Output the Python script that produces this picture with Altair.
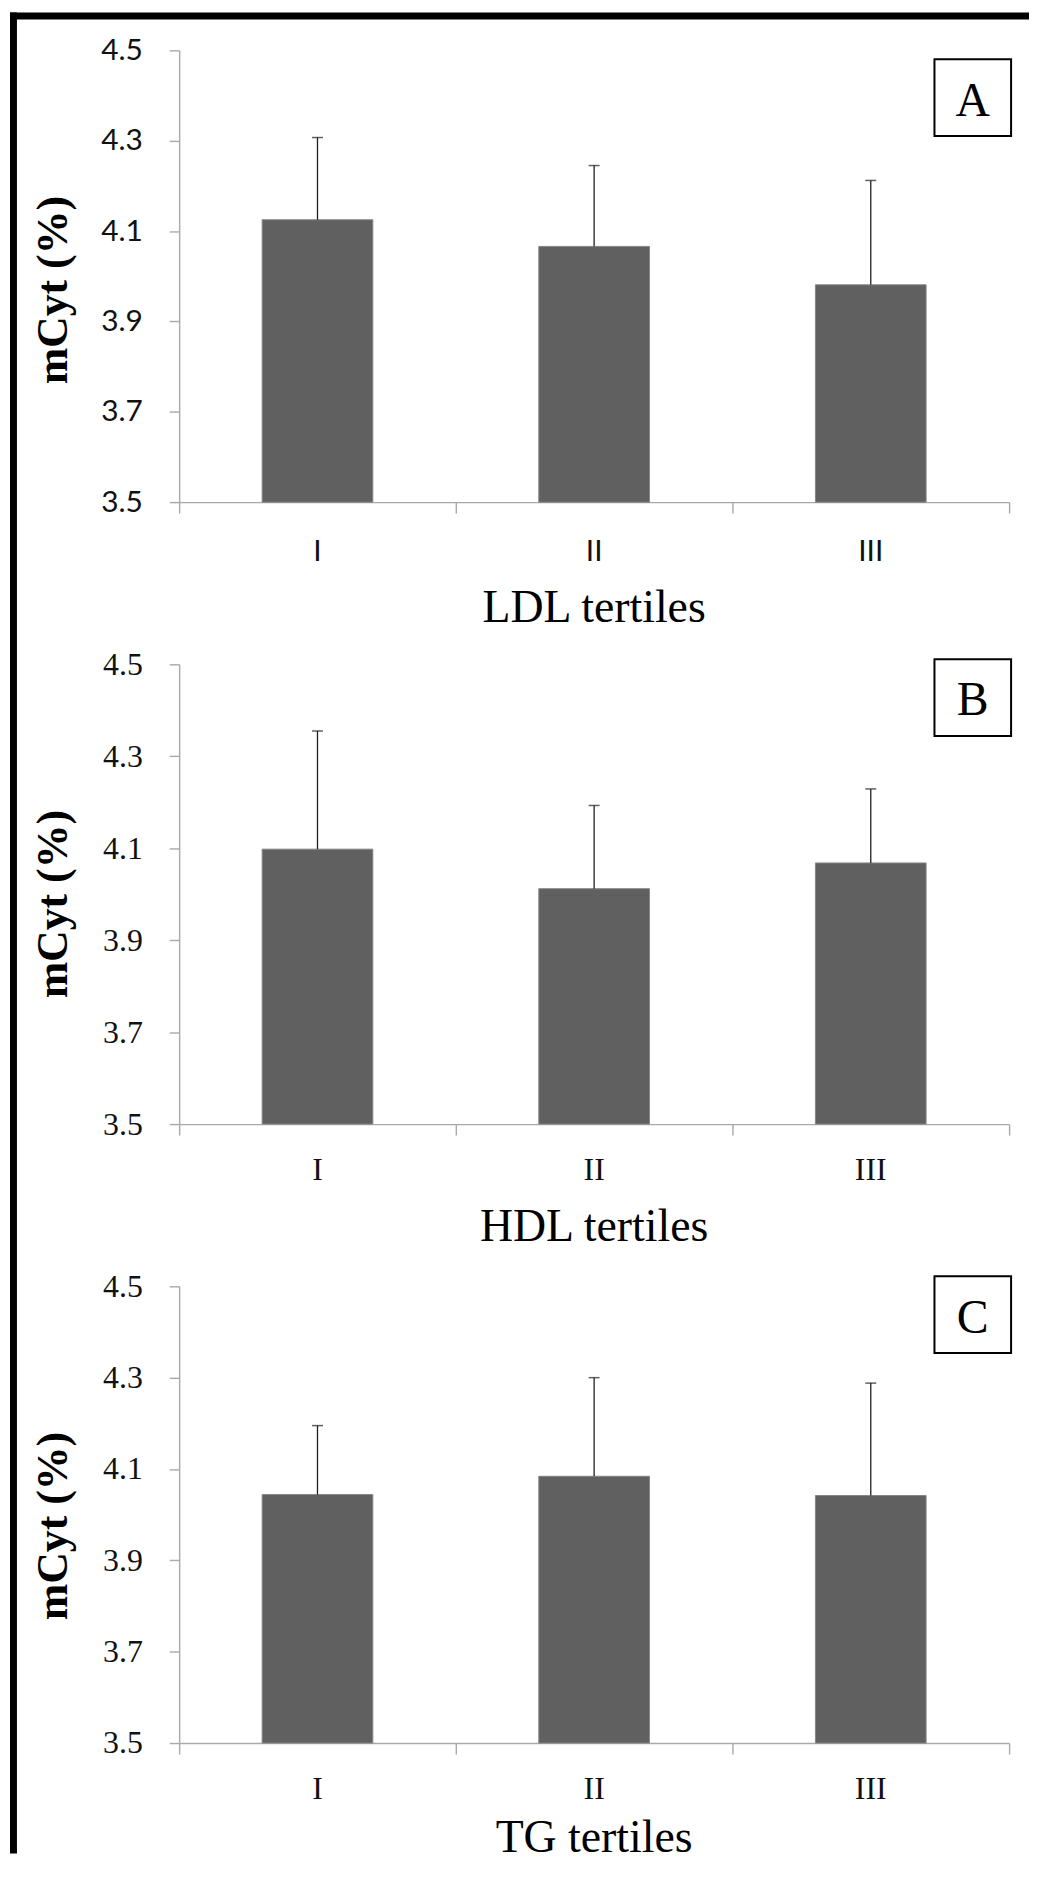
import altair as alt
import pandas as pd

# ---- data ----
tertiles = ["I", "II", "III"]
ldl_mean = [4.125, 4.066, 3.981]
ldl_err = [0.182, 0.179, 0.231]
hdl_mean = [4.098, 4.012, 4.068]
hdl_err = [0.257, 0.181, 0.161]
tg_mean = [4.044, 4.084, 4.042]
tg_err = [0.151, 0.216, 0.246]
y_ticks = [3.5, 3.7, 3.9, 4.1, 4.3, 4.5]
y_min, y_max = 3.5, 4.5
panel_letters = ["A", "B", "C"]
x_titles = ["LDL tertiles", "HDL tertiles", "TG tertiles"]
y_title = "mCyt (%)"

W = 834
AXIS_GRAY = "#a9a9a9"
SERIF = "Liberation Serif, Times New Roman, serif"


def panel(means, errs, letter, xtitle, height, tick_font, tick_fs, x_lab_pad,
          x_title_y, box_y, letter_y, frame=False):
    df = pd.DataFrame({"tertile": tertiles, "mean": means, "err": errs})
    base = alt.Chart(df).transform_calculate(upper="datum.mean + datum.err")

    x = alt.X(
        "tertile:N", sort=tertiles,
        scale=alt.Scale(paddingInner=0, paddingOuter=0),
        axis=alt.Axis(
            title=None, bandPosition=1, tickExtra=True,
            tickSize=11, labelAngle=0, labelFont=tick_font, labelFontSize=tick_fs,
            labelColor="#111", labelBaseline="alphabetic", labelPadding=x_lab_pad,
        ),
    )
    yscale = alt.Scale(domain=[y_min, y_max], nice=False, zero=False)
    yaxis = alt.Axis(
        values=y_ticks, format=".1f", title=None, tickSize=10,
        labelFont=tick_font, labelFontSize=tick_fs, labelColor="#111",
        labelPadding=27, labelBaseline="middle",
    )

    bars = base.mark_bar(
        width=alt.RelativeBandSize(0.4), color="#606060", stroke="#858585",
        strokeWidth=1,
    ).encode(x=x, y=alt.Y("mean:Q", scale=yscale, axis=yaxis),
             y2=alt.datum(y_min))

    err_line = base.mark_rule(color="#1e1e1e", strokeWidth=1.3).encode(
        x=x, y=alt.Y("mean:Q", scale=yscale, axis=yaxis), y2="upper:Q"
    )
    err_cap = base.mark_tick(color="#1e1e1e", size=11, thickness=1.5).encode(
        x=x, y=alt.Y("upper:Q", scale=yscale, axis=yaxis)
    )

    ann = alt.Chart(alt.Data(values=[{"letter": letter, "xt": xtitle,
                                      "yt": y_title}]))
    box = ann.mark_rect(fill="white", stroke="black", strokeWidth=2).encode(
        x=alt.value(759), x2=alt.value(836),
        y=alt.value(box_y), y2=alt.value(box_y + 77),
    )
    txt = ann.mark_text(font=SERIF, fontSize=48, color="black", align="center",
                        baseline="alphabetic").encode(
        x=alt.value(797.5), y=alt.value(letter_y), text="letter:N"
    )
    xt = ann.mark_text(font=SERIF, fontSize=46, fontWeight="normal",
                       color="black", align="center",
                       baseline="alphabetic").encode(
        x=alt.value(W / 2), y=alt.value(height + x_title_y), text="xt:N"
    )
    yt = ann.mark_text(font=SERIF, fontSize=44, fontWeight="bold", color="black",
                       align="center", baseline="middle", angle=270).encode(
        x=alt.value(-126), y=alt.value(241), text="yt:N"
    )

    layers = [bars, err_line, err_cap, box, txt, xt, yt]
    if frame:
        fr = alt.Chart(alt.Data(values=[{}]))
        top = fr.mark_rect(color="black", strokeWidth=0).encode(
            x=alt.value(-170), x2=alt.value(854),
            y=alt.value(-38), y2=alt.value(-31),
        )
        left = fr.mark_rect(color="black", strokeWidth=0).encode(
            x=alt.value(-170), x2=alt.value(-163),
            y=alt.value(-38), y2=alt.value(1812),
        )
        layers += [top, left]
    return alt.layer(*layers).properties(width=W, height=height)


pA = panel(ldl_mean, ldl_err, panel_letters[0], x_titles[0], 454, "Lato", 30,
           48, 120, 9, 66, frame=True)
pB = panel(hdl_mean, hdl_err, panel_letters[1], x_titles[1], 462, SERIF, 32,
           45, 117, -5, 51)
pC = panel(tg_mean, tg_err, panel_letters[2], x_titles[2], 459, SERIF, 32,
           45, 109, -10, 47)

chart = alt.vconcat(pA, pB, pC, spacing=163, bounds="flush").properties(
    padding={"left": 2, "top": 0, "right": 0, "bottom": 0},
    background="white",
).configure_view(stroke=None).configure_axis(
    grid=False, domainColor=AXIS_GRAY, tickColor=AXIS_GRAY,
    domainWidth=1.4, tickWidth=1.4,
)

chart.save("out.html", embed_options={"renderer": "svg", "actions": False})
